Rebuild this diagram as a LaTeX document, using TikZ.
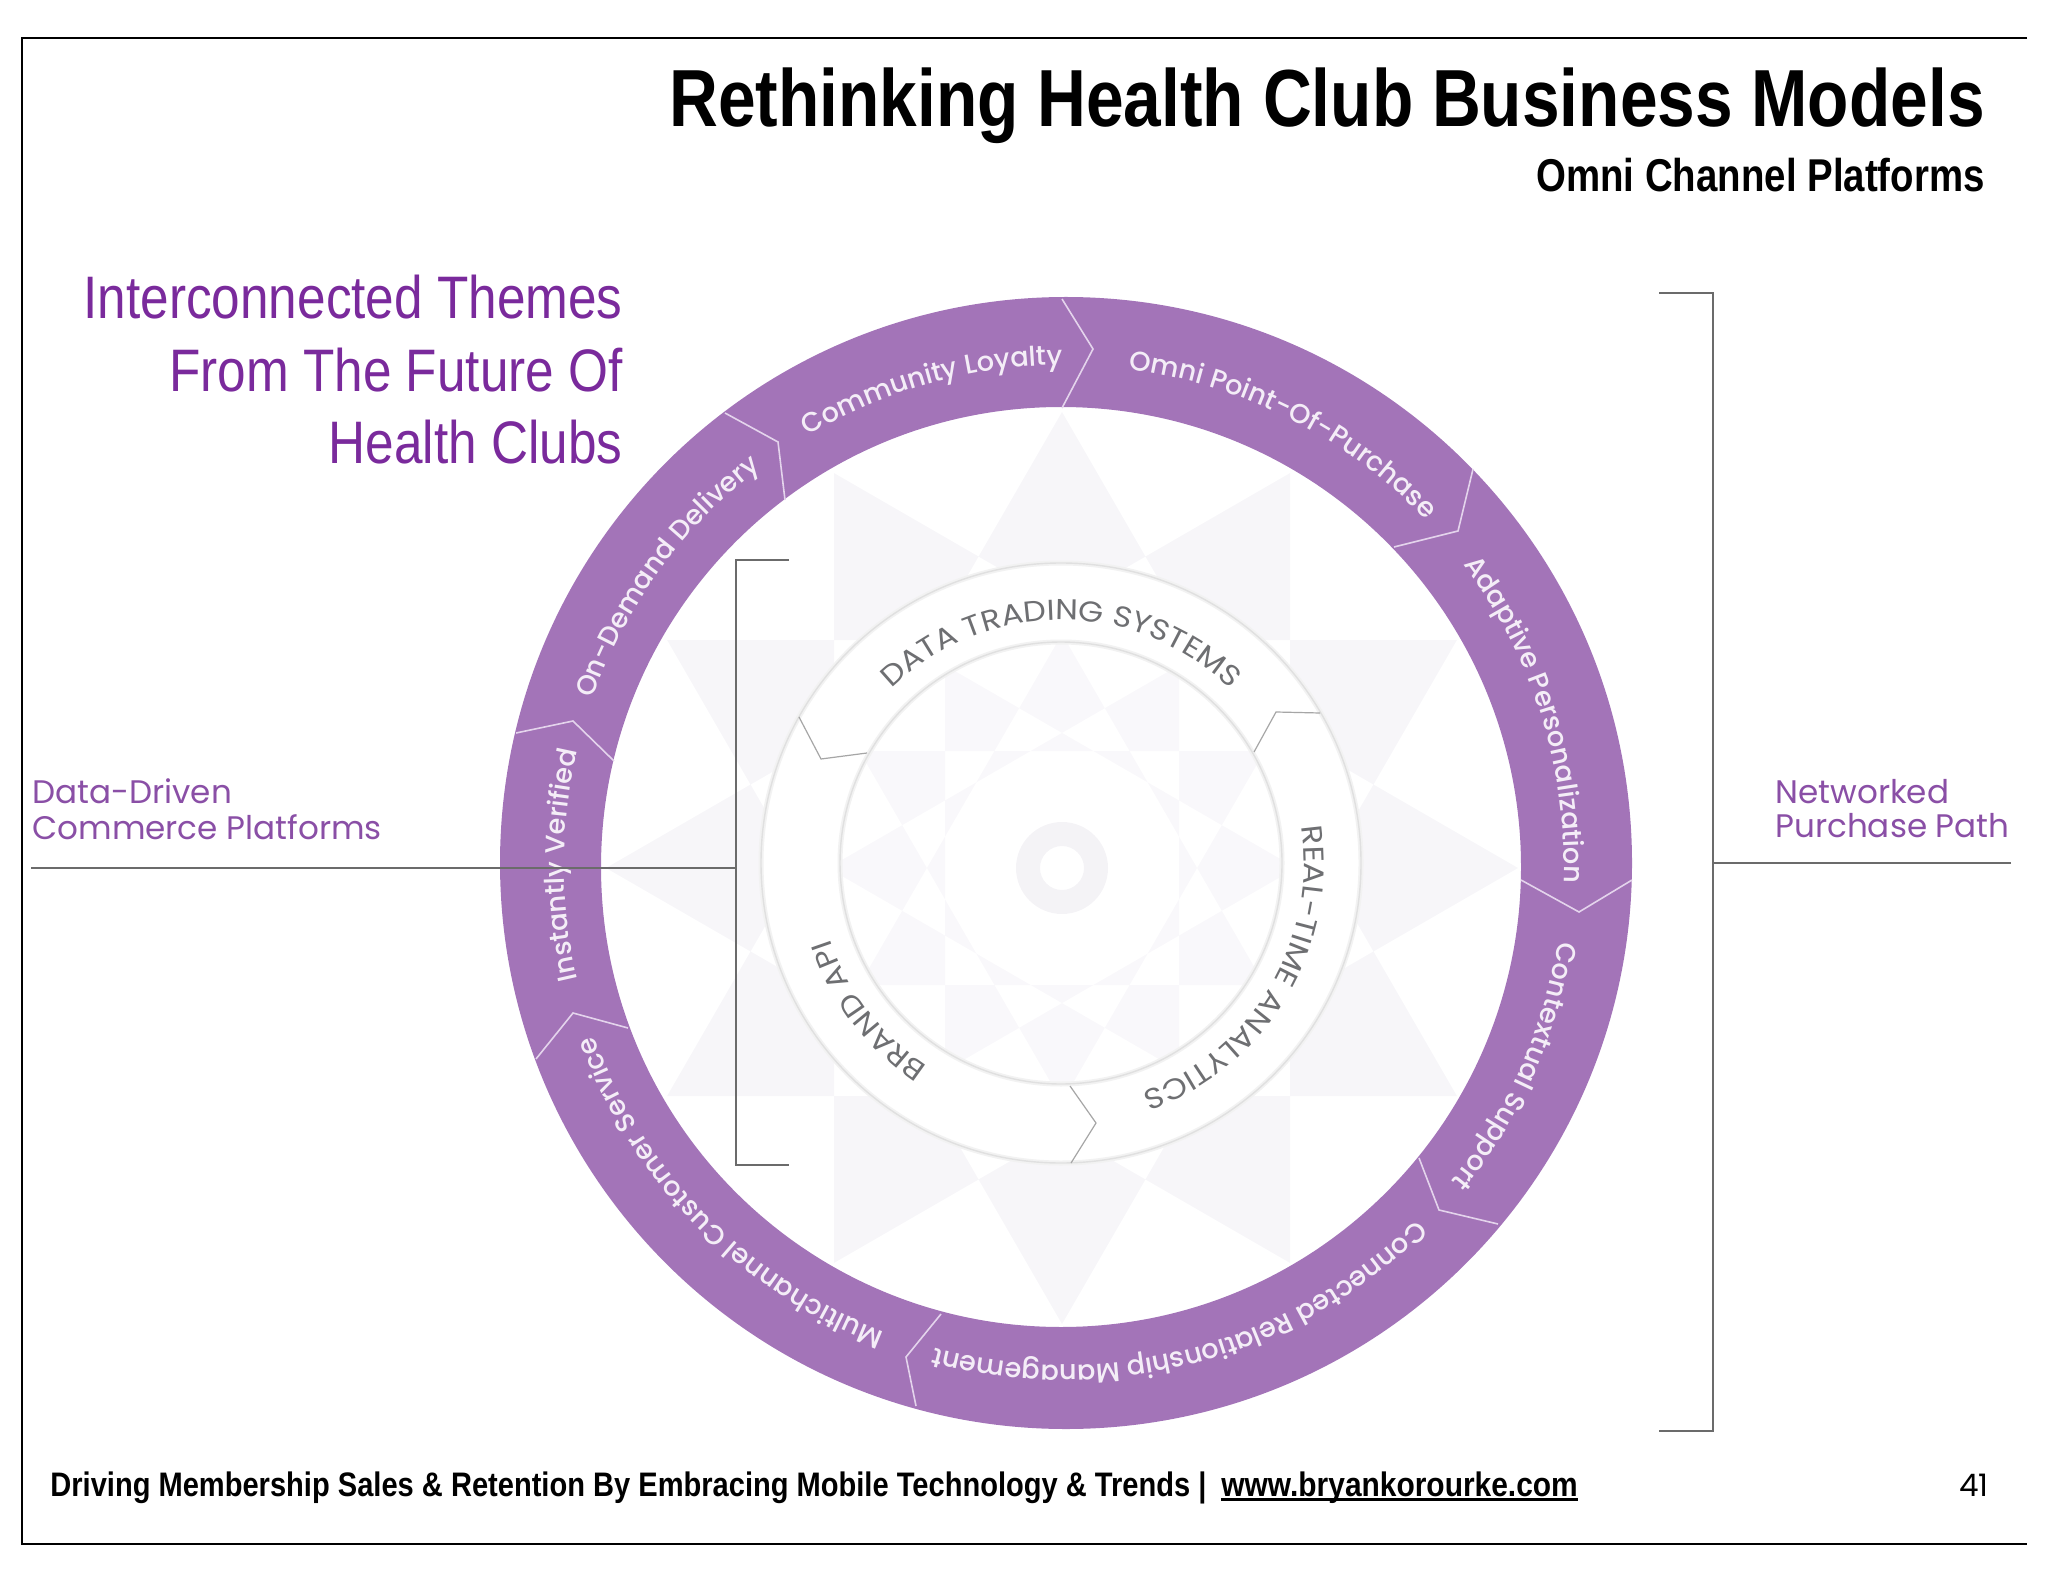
\documentclass[tikz,border=0pt]{standalone}
\usepackage{fontspec}
\usepackage{tikz}
\usetikzlibrary{decorations.text}

\newfontfamily\narrowfont[FakeStretch=0.835]{Liberation Sans}
\newfontfamily\themefont[FakeStretch=0.855]{Liberation Sans}
\newfontfamily\urlfont[FakeStretch=0.88]{Liberation Sans}
\newfontfamily\ringfont[UprightFont=* Medium]{Poppins}
\newfontfamily\platformfont{Poppins}
\newfontfamily\hubfont[FakeStretch=1.12]{Poppins}
\definecolor{ringpurple}{HTML}{A374B8}
\definecolor{ringtext}{HTML}{F4EDF7}
\definecolor{seamline}{HTML}{E4D4EC}
\definecolor{themepurple}{HTML}{7A2A9C}
\definecolor{platformpurple}{HTML}{8A4FA6}
\definecolor{hubgrey}{HTML}{6E6F72}
\definecolor{starshade}{HTML}{F7F6F9}
\definecolor{hubshade}{HTML}{F9F8FB}
\definecolor{donutshade}{HTML}{F4F3F6}

\tikzset{
  headline/.style={inner sep=0pt, anchor=base east, font=\narrowfont\bfseries\fontsize{40.5}{40.5}\selectfont},
  subline/.style={inner sep=0pt, anchor=base east, font=\narrowfont\bfseries\fontsize{23}{23}\selectfont},
  themeline/.style={inner sep=0pt, anchor=base east, text=themepurple, font=\themefont\fontsize{30}{30}\selectfont},
  footline/.style={inner sep=0pt, anchor=base west, font=\themefont\bfseries\fontsize{17}{17}\selectfont},
  platform/.style={inner sep=0pt, anchor=base west, text=platformpurple, font=\platformfont\fontsize{16.3}{16.3}\selectfont},
  bracket/.style={draw=black!58, line width=1.2pt},
  seam/.style={draw=seamline, line width=0.8pt},
  hubseam/.style={draw=black!35, line width=0.6pt},
  ringlabel/.style={decorate, decoration={text along path, text align=center,
      text={|\ringfont\fontsize{13.6}{13.6}\selectfont\color{ringtext}|#1}}},
  hublabel/.style={decorate, decoration={text along path, text align=center,
      text={|\hubfont\fontsize{14.4}{14.4}\selectfont\color{hubgrey}|#1}}}
}

\begin{document}
\begin{tikzpicture}[x=0.5pt, y=0.5pt]
\useasboundingbox (0,0) rectangle (2048,-1582);

% Frame
\draw[line width=0.8pt] (2027,-38) -- (22,-38) -- (22,-1544) -- (2027,-1544);

% Headings
\node (title) [headline] at (1985,-127) {Rethinking Health Club Business Models};
\node (subtitle) [subline] at (1985,-192) {Omni Channel Platforms};
\node (theme1) [themeline] at (623,-319) {Interconnected Themes};
\node (theme2) [themeline] at (623,-392) {From The Future Of};
\node (theme3) [themeline] at (623,-464) {Health Clubs};

% Star pattern
\begin{scope}[shift={(1062,-868)}]
\fill[starshade, even odd rule] \foreach \k in {0,30,60,90} {
  (\k:456) -- (\k+120:456) -- (\k+240:456) -- cycle };
\fill[hubshade, even odd rule] \foreach \k in {0,30,60,90} {
  (\k:234) -- (\k+120:234) -- (\k+240:234) -- cycle };
\fill[donutshade, even odd rule] (0,0) circle [radius=46] (0,0) circle [radius=22];
\end{scope}

% Outer ring
\fill[ringpurple, even odd rule] (1066,-863) circle [radius=566]
  (1061,-867) circle [radius=460];
\draw[seam] (1062,-299) -- (1093,-349) -- (1062,-408);
\draw[seam] (1473,-469) -- (1458,-531) -- (1394,-547);
\draw[seam] (1632,-880) -- (1579,-912) -- (1521,-880);
\draw[seam] (1498,-1224) -- (1439,-1210) -- (1419,-1158);
\draw[seam] (941,-1314) -- (906,-1357) -- (916,-1406);
\draw[seam] (536,-1059) -- (573,-1013) -- (628,-1028);
\draw[seam] (516,-733) -- (573,-721) -- (614,-761);
\draw[seam] (725,-413) -- (778,-442) -- (785,-500);

% Outer ring labels
\begin{scope}[shift={(1064,-865)}]
\path[ringlabel={Community Loyalty}] (135.5:500) arc (135.5:75.5:500);
\path[ringlabel={Omni Point-Of-Purchase}] (92.6:500) arc (92.6:33.6:500);
\path[ringlabel={Adaptive Personalization}] (48:500) arc (48:-13:500);
\path[ringlabel={Contextual Support}] (6:500) arc (6:-54:500);
\path[ringlabel={Connected Relationship Management}] (-29.6:500) arc (-29.6:-120.6:500);
\path[ringlabel={Multichannel Customer Service}] (-95:500) arc (-95:-176:500);
\path[ringlabel={Instantly Verified}] (210:500) arc (210:150:500);
\path[ringlabel={On-Demand Delivery}] (174:500) arc (174:114:500);
\end{scope}

% Hub ring
\fill[white, even odd rule] (1061,-863) circle [radius=300] (1061,-863) circle [radius=221];
\draw[black!5, line width=2.5pt] (1061,-863) circle [radius=300] (1061,-863) circle [radius=221];
\draw[black!12, line width=0.7pt] (1061,-863) circle [radius=300] (1061,-863) circle [radius=221];
\draw[hubseam] (799,-717) -- (821,-759) -- (867,-753);
\draw[hubseam] (1320,-713) -- (1276,-712) -- (1254,-752);
\draw[hubseam] (1070,-1086) -- (1096,-1123) -- (1071,-1163);

% Hub labels
\begin{scope}[shift={(1061,-863)}]
\path[hublabel={DATA TRADING SYSTEMS}] (150:243) arc (150:30:243);
\path[hublabel={REAL-TIME ANALYTICS}] (29:243) arc (29:-91:243);
\path[hublabel={BRAND API}] (-102:243) arc (-102:-183:243);
\end{scope}

% Brackets
\coordinate (lefttop) at (789,-560);
\coordinate (leftbot) at (789,-1165);
\coordinate (leftend) at (31,-868);
\coordinate (righttop) at (1659,-293);
\coordinate (rightbot) at (1659,-1431);
\coordinate (rightend) at (2011,-863);
\draw[bracket] (lefttop) -- (736,-560) -- (736,-1165) -- (leftbot);
\draw[bracket] (leftend) -- (736,-868);
\draw[bracket] (righttop) -- (1713,-293) -- (1713,-1431) -- (rightbot);
\draw[bracket] (rightend) -- (1713,-863);

% Side labels
\node (driven1) [platform] at (32,-803) {Data-Driven};
\node (driven2) [platform] at (32,-839) {Commerce Platforms};
\node (path1) [platform] at (1775,-803) {Networked};
\node (path2) [platform] at (1775,-837) {Purchase Path};

% Footer
\node (foot) [footline] at (50,-1496) {Driving Membership Sales \& Retention By Embracing Mobile Technology \& Trends |};
\node (url) [footline, font=\urlfont\bfseries\fontsize{17}{17}\selectfont] at (1221,-1496) {www.bryankorourke.com};
\draw[line width=1.2pt] ([yshift=-1.7pt]url.base west) -- ([yshift=-1.7pt]url.base east);
\node (page) [footline, anchor=base east, font=\platformfont\fontsize{15.5}{15.5}\selectfont] at (1989,-1496) {41};

\end{tikzpicture}
\end{document}
